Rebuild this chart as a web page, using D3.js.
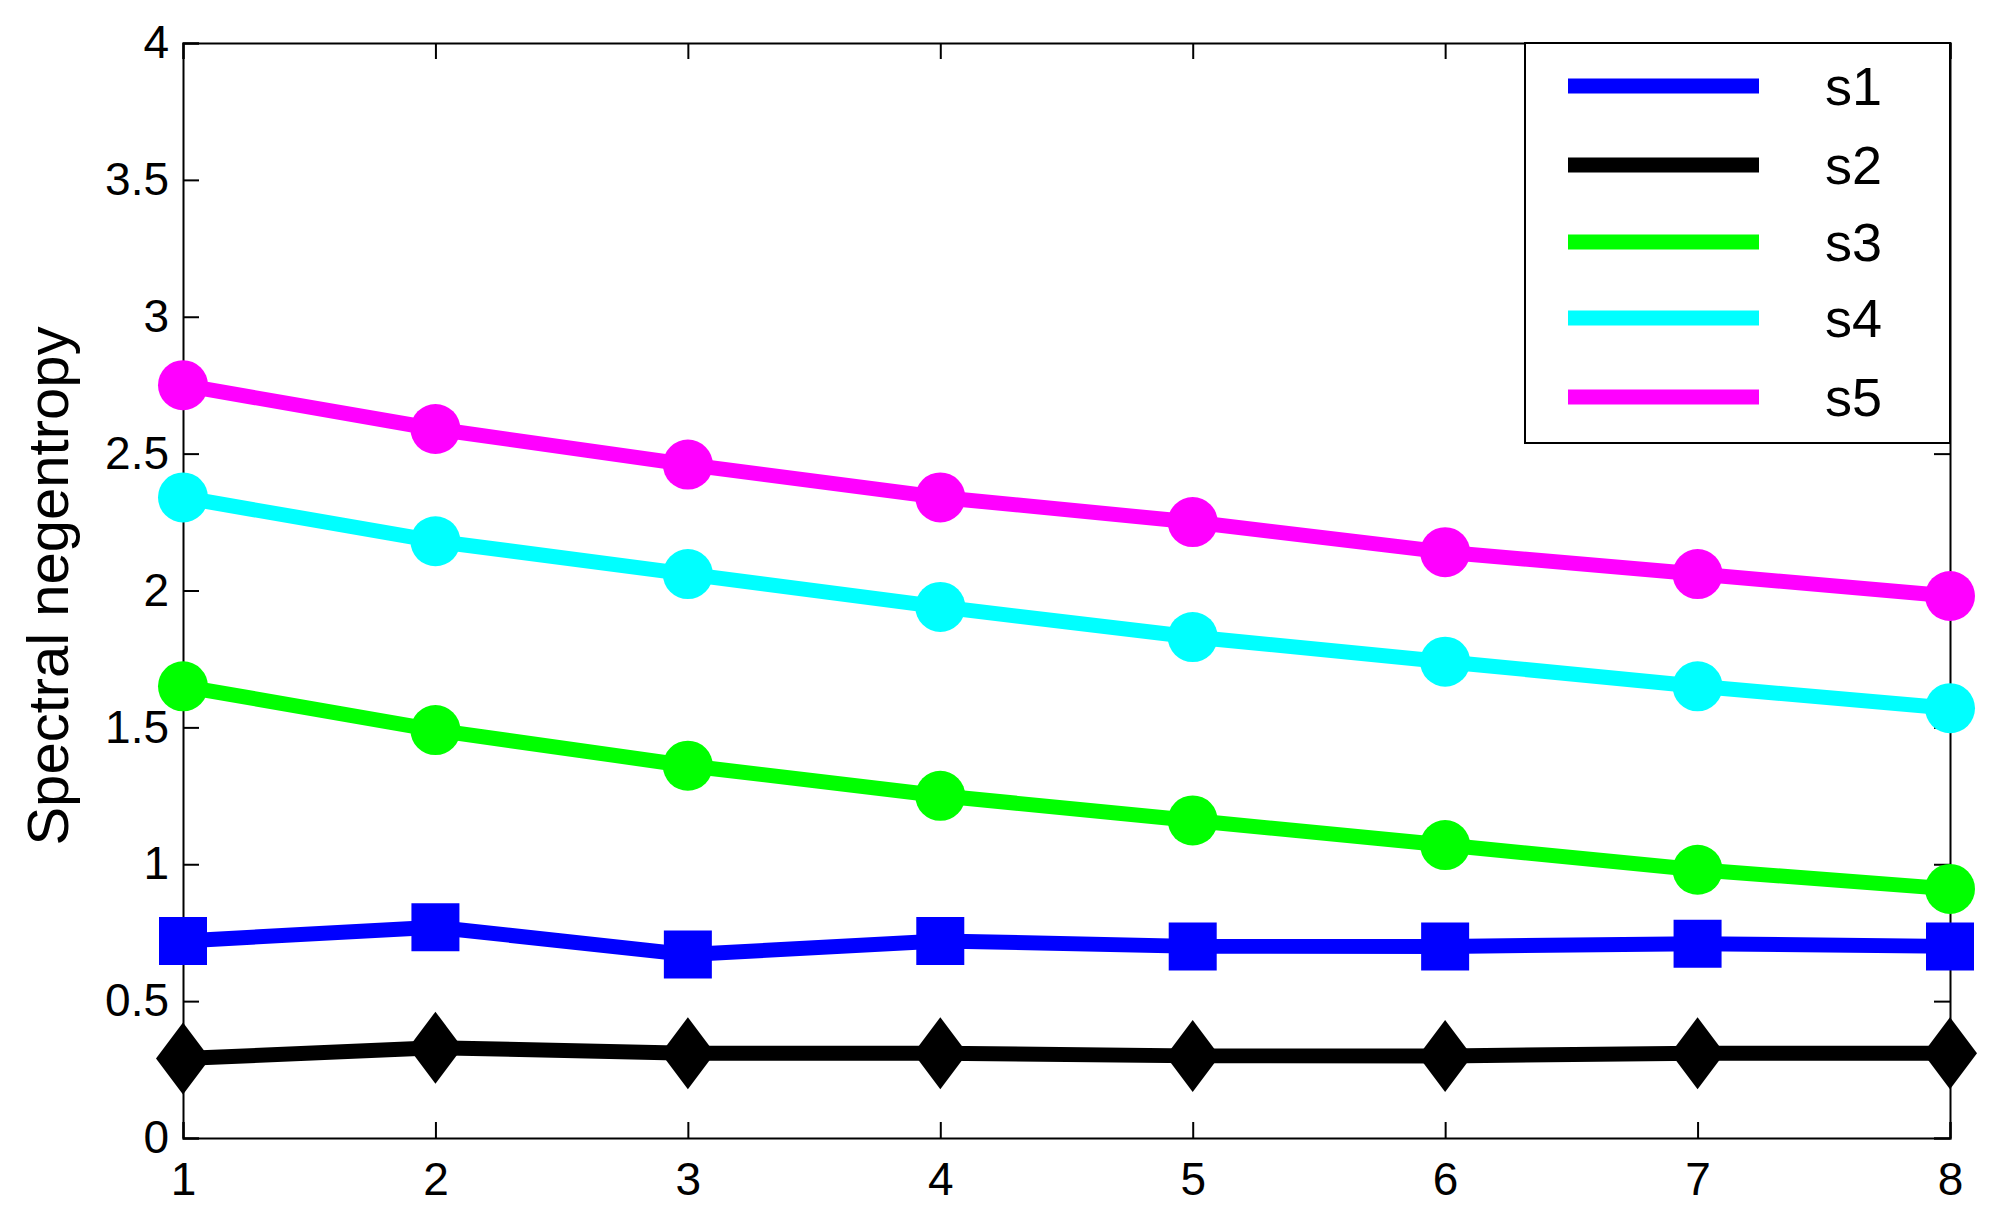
<!DOCTYPE html>
<html><head><meta charset="utf-8">
<script src="https://cdn.jsdelivr.net/npm/d3@7"></script>
<style>body{margin:0;background:#fff}svg text{font-family:Arial,"Liberation Sans",sans-serif}</style>
</head><body>
<svg id="c" width="1995" height="1218"></svg>
<script>
const xCats=[1,2,3,4,5,6,7,8];
const yTicks=[0,0.5,1,1.5,2,2.5,3,3.5,4];
const s1=[0.72,0.77,0.67,0.72,0.70,0.70,0.71,0.70];
const s2=[0.29,0.33,0.31,0.31,0.30,0.30,0.31,0.31];
const s3=[1.65,1.49,1.36,1.25,1.16,1.07,0.98,0.91];
const s4=[2.34,2.18,2.06,1.94,1.83,1.74,1.65,1.57];
const s5=[2.75,2.59,2.46,2.34,2.25,2.14,2.06,1.98];
const seriesNames=["s1","s2","s3","s4","s5"];
const series=[
 {name:"s1",v:s1,c:"#0000ff",m:"square"},
 {name:"s2",v:s2,c:"#000000",m:"diamond"},
 {name:"s3",v:s3,c:"#00ff00",m:"circle"},
 {name:"s4",v:s4,c:"#00ffff",m:"circle"},
 {name:"s5",v:s5,c:"#ff00ff",m:"circle"}];
const L=183,R=1950,T=43,B=1138;
const x=d3.scaleLinear().domain([1,8]).range([L,R]);
const y=d3.scaleLinear().domain([0,4]).range([B,T]);
const svg=d3.select("#c");
const tl=16;
const gx=svg.append("g").attr("transform",`translate(0,${B})`).call(d3.axisBottom(x).tickValues(xCats).tickSize(-tl).tickPadding(24).tickFormat(d3.format("d")));
const gxt=svg.append("g").attr("transform",`translate(0,${T})`).call(d3.axisTop(x).tickValues(xCats).tickSize(-tl).tickFormat(""));
const gy=svg.append("g").attr("transform",`translate(${L},0)`).call(d3.axisLeft(y).tickValues(yTicks).tickSize(-tl).tickPadding(14).tickFormat(d=>String(d)));
const gyr=svg.append("g").attr("transform",`translate(${R},0)`).call(d3.axisRight(y).tickValues(yTicks).tickSize(-tl).tickFormat(""));
[gx,gxt,gy,gyr].forEach(g=>{g.select(".domain").attr("stroke","#000").attr("stroke-width",2);g.selectAll(".tick line").attr("stroke","#000").attr("stroke-width",2);g.selectAll("text").attr("font-size",46).attr("fill","#000").attr("font-family","Arial,'Liberation Sans',sans-serif");});
svg.append("text").attr("transform",`translate(68,586) rotate(-90)`).attr("text-anchor","middle").attr("font-size",58).text("Spectral negentropy");
const line=d3.line().x((d,i)=>x(xCats[i])).y(d=>y(d));
const sym={square:d3.symbol().type(d3.symbolSquare).size(48*48),circle:d3.symbol().type(d3.symbolCircle).size(Math.PI*25*25)};
series.forEach(s=>{
 svg.append("path").datum(s.v).attr("d",line).attr("fill","none").attr("stroke",s.c).attr("stroke-width",15).attr("stroke-linejoin","round");
 const g=svg.append("g");
 s.v.forEach((d,i)=>{
  const cx=x(xCats[i]),cy=y(d);
  if(s.m==="diamond") g.append("path").attr("d",`M${cx},${cy-36}L${cx+27},${cy}L${cx},${cy+36}L${cx-27},${cy}Z`).attr("fill",s.c);
  else g.append("path").attr("transform",`translate(${cx},${cy})`).attr("d",sym[s.m]()).attr("fill",s.c);
 });
});
svg.append("rect").attr("x",1525).attr("y",43).attr("width",425).attr("height",400).attr("fill","#fff").attr("stroke","#000").attr("stroke-width",2);
const ly=[86,165,242,318,397];
series.forEach((s,i)=>{
 svg.append("line").attr("x1",1568).attr("x2",1759).attr("y1",ly[i]).attr("y2",ly[i]).attr("stroke",s.c).attr("stroke-width",15);
 svg.append("text").attr("x",1825).attr("y",ly[i]+19).attr("font-size",54).text(seriesNames[i]);
});
</script></body></html>
